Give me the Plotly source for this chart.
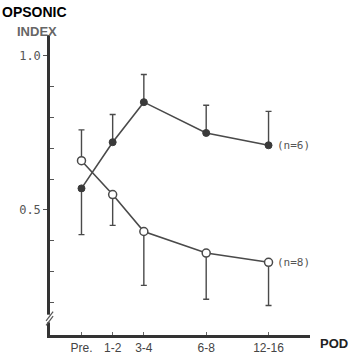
import plotly.graph_objects as go

# Data
x_pos = [0, 1, 2, 4, 6]
x_labels = ["Pre.", "1-2", "3-4", "6-8", "12-16"]

filled_y = [0.57, 0.72, 0.85, 0.75, 0.71]
filled_plus = [0.0, 0.09, 0.09, 0.09, 0.11]
filled_minus = [0.15, 0.0, 0.0, 0.0, 0.0]

open_y = [0.66, 0.55, 0.43, 0.36, 0.33]
open_plus = [0.10, 0.0, 0.0, 0.0, 0.0]
open_minus = [0.0, 0.10, 0.175, 0.15, 0.14]

line_col = "#4a4a4a"
txt_col = "#555555"

fig = go.Figure()
fig.add_trace(go.Scatter(
    x=x_pos, y=filled_y, mode="lines+markers",
    line=dict(color=line_col, width=1.6),
    marker=dict(symbol="circle", size=7, color="#3a3a3a", line=dict(color="#3a3a3a", width=1)),
    error_y=dict(type="data", symmetric=False, array=filled_plus, arrayminus=filled_minus,
                 color=line_col, thickness=1.4, width=3),
    showlegend=False,
))
fig.add_trace(go.Scatter(
    x=x_pos, y=open_y, mode="lines+markers",
    line=dict(color=line_col, width=1.6),
    marker=dict(symbol="circle", size=8, color="white", line=dict(color=line_col, width=1.5)),
    error_y=dict(type="data", symmetric=False, array=open_plus, arrayminus=open_minus,
                 color=line_col, thickness=1.4, width=3),
    showlegend=False,
))

fig.update_layout(
    width=350, height=354, autosize=False,
    margin=dict(l=50, r=40, t=35, b=19),
    paper_bgcolor="white", plot_bgcolor="white",
    xaxis=dict(
        range=[-1.01, 7.33], showgrid=False, zeroline=False, automargin=False,
        showline=True, linecolor="#333", linewidth=2.5,
        tickmode="array", tickvals=x_pos, ticktext=x_labels,
        ticks="inside", ticklen=3, tickcolor="#666", tickwidth=1,
        tickfont=dict(family="Liberation Sans", size=12, color="#444"),
    ),
    yaxis=dict(
        range=[0.094, 1.068], showgrid=False, zeroline=False, automargin=False,
        showline=True, linecolor="#333", linewidth=2.5,
        tickmode="array", tickvals=[0.5, 1.0], ticktext=["0.5", "1.0"],
        ticks="outside", ticklen=4, tickcolor="#555", tickwidth=1,
        tickfont=dict(family="DejaVu Sans Mono", size=12, color=txt_col),
        minor=dict(tickmode="array", tickvals=[0.2, 0.3, 0.4, 0.6, 0.7, 0.8, 0.9],
                   ticks="inside", ticklen=4, tickcolor="#555", tickwidth=1),
    ),
    shapes=[
        # axis break: white gap and slashes
        dict(type="rect", xref="paper", yref="y", x0=-0.02, x1=0.02, y0=0.135, y1=0.16,
             fillcolor="white", line=dict(width=0), layer="above"),
        dict(type="line", xref="paper", yref="y", x0=-0.015, x1=0.012, y0=0.125, y1=0.155,
             line=dict(color="#555", width=1.2), layer="above"),
        dict(type="line", xref="paper", yref="y", x0=-0.015, x1=0.012, y0=0.14, y1=0.17,
             line=dict(color="#555", width=1.2), layer="above"),
    ],
)

fig.add_annotation(x=-50/260, y=1 + 23/300, xref="paper", yref="paper", xanchor="left", yanchor="middle",
                   text="<b>OPSONIC</b>", showarrow=False,
                   font=dict(family="Liberation Sans", size=14, color="black"))
fig.add_annotation(x=-35/260, y=1 + 3/300, xref="paper", yref="paper", xanchor="left", yanchor="middle",
                   text="<b>INDEX</b>", showarrow=False,
                   font=dict(family="Liberation Sans", size=13, color="#666"))
fig.add_annotation(x=1 + 8/260, y=-8/300, xref="paper", yref="paper", xanchor="left", yanchor="middle",
                   text="<b>POD</b>", showarrow=False,
                   font=dict(family="Liberation Sans", size=13, color="#222"))
fig.add_annotation(x=6.2, y=filled_y[4], xref="x", yref="y", text="(n=6)", showarrow=False,
                   xanchor="left", font=dict(family="DejaVu Sans Mono", size=11, color=txt_col))
fig.add_annotation(x=6.2, y=open_y[4], xref="x", yref="y", text="(n=8)", showarrow=False,
                   xanchor="left", font=dict(family="DejaVu Sans Mono", size=11, color=txt_col))

fig.write_html("out.html",
               config={"responsive": False, "displayModeBar": False},
               post_script="document.body.style.margin='0';document.body.style.overflow='hidden';")
